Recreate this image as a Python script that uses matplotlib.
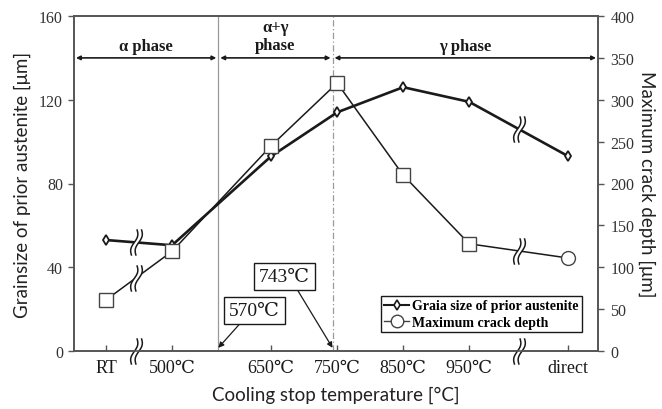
import numpy as np
import matplotlib
matplotlib.use("Agg")
import matplotlib.pyplot as plt
from matplotlib.path import Path
from matplotlib.lines import Line2D

# Categories along the cooling-stop axis
categories = ["RT", "500℃", "650℃", "750℃", "850℃", "950℃", "direct"]
cat_temps = [None, 500, 650, 750, 850, 950, None]

# Measured series
grain_size = [53, 50.5, 93, 114, 126, 119, 93]        # μm, left axis
crack_depth = [61, 119, 245, 320, 210, 128, 111]      # μm, right axis

# Phase boundaries (°C)
boundaries = [570, 743]
phase_labels = ["α phase", "α+γ\nphase", "γ phase"]


def temp_to_pos(t):
    # 500–950 °C on a linear scale, 100 °C per unit; RT and "direct" sit past breaks
    return 1 + (t - 500) / 100.0


x = []
for lab, t in zip(categories, cat_temps):
    if lab == "RT":
        x.append(0.0)
    elif lab == "direct":
        x.append(7.0)
    else:
        x.append(temp_to_pos(t))
x = np.array(x)

serif = ["Liberation Serif", "DejaVu Serif"]
sans = ["Lato", "DejaVu Sans"]
ink = "#1a1a1a"

fig = plt.figure(figsize=(6.62, 4.10), dpi=100)
ax = fig.add_axes([0.1118, 0.1415, 0.7915, 0.817])
ax2 = ax.twinx()

ax.set_xlim(-0.485, 7.45)
ax.set_ylim(0, 160)
ax2.set_ylim(0, 400)

# Phase boundary lines
b_pos = [temp_to_pos(b) for b in boundaries]
ax.axvline(b_pos[0], color="#9a9a9a", lw=0.9, zorder=1)
ax.axvline(b_pos[1], color="#9a9a9a", lw=0.9, ls=(0, (5, 2, 1, 2)), zorder=1)

# Series
ax.plot(x, grain_size, color=ink, lw=1.9, marker="d", ms=5, mfc="white",
        mec=ink, mew=1.3, zorder=4)
ax2.plot(x, crack_depth, color=ink, lw=1.1, zorder=3)
ax2.plot(x[:-1], crack_depth[:-1], ls="none", marker="s", ms=10, mfc="white",
         mec="#444444", mew=1.0, zorder=5)
ax2.plot(x[-1:], crack_depth[-1:], ls="none", marker="o", ms=10, mfc="white",
         mec="#444444", mew=1.0, zorder=5)

# Phase span arrows and labels
y_arrow = 140
edges = [ax.get_xlim()[0], b_pos[0], b_pos[1], ax.get_xlim()[1]]
label_y = [145.5, 150.5, 145.5]
for i in range(3):
    ax.annotate("", xy=(edges[i + 1] - 0.03, y_arrow), xytext=(edges[i] + 0.03, y_arrow),
                arrowprops=dict(arrowstyle="<|-|>", color=ink, lw=1.2,
                                mutation_scale=6, shrinkA=0, shrinkB=0), zorder=6)
    ax.text((edges[i] + edges[i + 1]) / 2, label_y[i], phase_labels[i], ha="center",
            va="center", family=serif, fontsize=12, fontweight="bold", color=ink,
            linespacing=1.15)

# Boundary temperature callouts
box = dict(boxstyle="square,pad=0.25", fc="white", ec=ink, lw=1.0)
ax.annotate(f"{boundaries[0]}℃", xy=(b_pos[0], 1.5), xytext=(2.25, 19.5),
            ha="center", va="center", family=serif, fontsize=14, color=ink, bbox=box,
            arrowprops=dict(arrowstyle="-|>", color=ink, lw=0.9, mutation_scale=8,
                            shrinkA=0, shrinkB=0, relpos=(0.3, 0.0)), zorder=7)
ax.annotate(f"{boundaries[1]}℃", xy=(b_pos[1], 1.5), xytext=(2.7, 35.5),
            ha="center", va="center", family=serif, fontsize=14, color=ink, bbox=box,
            arrowprops=dict(arrowstyle="-|>", color=ink, lw=0.9, mutation_scale=8,
                            shrinkA=0, shrinkB=0, relpos=(0.7, 0.0)), zorder=7)

# Axis-break marks: two slanted S-strokes with a white gap between them
t = np.linspace(-1, 1, 25)
wave_x = 0.16 * np.sin(np.pi * t) + 0.2 * t
verts = np.concatenate([np.column_stack([wave_x - 0.17, t]),
                        np.column_stack([wave_x + 0.17, t])])
codes = ([Path.MOVETO] + [Path.LINETO] * 24) * 2
break_marker = Path(verts, codes)
gap_verts = np.concatenate([np.column_stack([wave_x - 0.17, t]),
                            np.column_stack([wave_x[::-1] + 0.17, t[::-1]])])
gap_marker = Path(np.vstack([gap_verts, gap_verts[:1]]))

break_x = [0.45, 6.25]
for bx in break_x:
    targets = [(ax, 0.0),
               (ax, np.interp(bx, x, grain_size)),
               (ax2, np.interp(bx, x, crack_depth))]
    for a, yb in targets:
        a.plot([bx], [yb], ls="none", marker=gap_marker, ms=19, mfc="white",
               mec="white", mew=0, zorder=8, clip_on=False)
        a.plot([bx], [yb], ls="none", marker=break_marker, ms=19, mfc="none",
               mec=ink, mew=1.1, zorder=9, clip_on=False)

# Ticks and labels
ax.set_xticks(x)
ax.set_xticklabels(categories, family=serif, fontsize=13, color=ink)
ax.tick_params(axis="x", direction="in", length=4, width=1, pad=6, colors="#555555",
               labelcolor=ink)
ax.set_yticks([0, 40, 80, 120, 160])
ax.tick_params(axis="y", direction="out", length=4, width=1, colors="#555555",
               labelcolor="#333333", pad=4)
for lab in ax.get_yticklabels():
    lab.set_family(serif)
    lab.set_fontsize(11.5)
ax2.set_yticks(np.arange(0, 401, 50))
ax2.tick_params(axis="y", direction="out", length=4, width=1, colors="#555555",
                labelcolor="#333333", pad=5)
for lab in ax2.get_yticklabels():
    lab.set_family(serif)
    lab.set_fontsize(11.5)

for a in (ax, ax2):
    for s in a.spines.values():
        s.set_color("#555555")
        s.set_linewidth(1.2)

ax.set_xlabel("Cooling stop temperature [°C]", family=sans, fontsize=13.5,
              color="#222222", labelpad=7)
ax.set_ylabel("Grainsize of prior austenite [μm]", family=sans, fontsize=13.5,
              color="#222222", labelpad=6)
ax2.set_ylabel("Maximum crack depth [μm]", family=sans, fontsize=13.5,
               color="#222222", rotation=270, labelpad=15)

# Legend
handles = [
    Line2D([], [], color=ink, lw=1.5, marker="d", ms=5, mfc="white", mec=ink, mew=1.2),
    Line2D([], [], color="#444444", lw=1.0, marker="o", ms=9, mfc="white", mec="#444444"),
]
leg = ax2.legend(handles, ["Graia size of prior austenite", "Maximum crack depth"],
                 loc="upper left", bbox_to_anchor=(0.572, 0.185), frameon=True,
                 fancybox=False, edgecolor=ink, framealpha=1, borderpad=0.25,
                 handlelength=1.8, handletextpad=0.2, labelspacing=0.25,
                 prop=dict(family=serif, size=10, weight="bold"))
leg.get_frame().set_linewidth(1.0)
leg.set_zorder(10)

fig.savefig("out.png", dpi=100)
